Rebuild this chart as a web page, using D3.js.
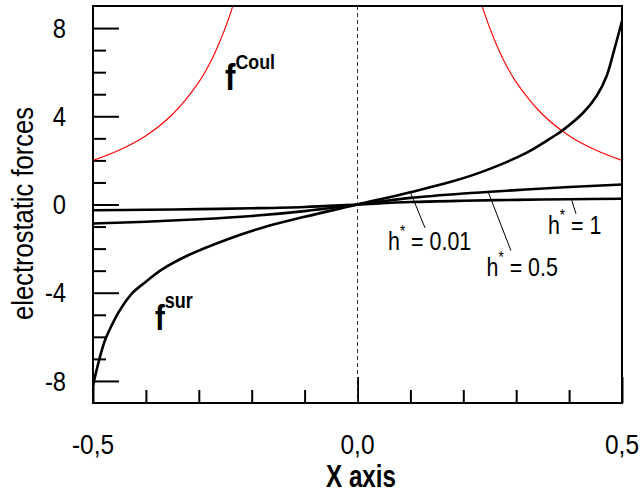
<!DOCTYPE html>
<html>
<head>
<meta charset="utf-8">
<script src="https://cdn.jsdelivr.net/npm/d3@7"></script>
<style>
  html, body { margin: 0; padding: 0; background: #fff; }
  svg { display: block; }
  text { font-family: "Liberation Sans", Arial, sans-serif; fill: #000; }
</style>
</head>
<body>
<svg id="chart" width="643" height="494"></svg>
<script>
// ---------------- data ----------------
const xMajorTicks = [-0.5, 0, 0.5];
const xTickLabels = ["-0,5", "0,0", "0,5"];
const xMinorTicks = [-0.4, -0.3, -0.2, -0.1, 0.1, 0.2, 0.3, 0.4];
const yMajorTicks = [-8, -4, 0, 4, 8];
const yTickLabels = ["-8", "-4", "0", "4", "8"];
const yMinorTicks = [-7, -6, -5, -3, -2, -1, 1, 2, 3, 5, 6, 7];

// Coulomb force (red), left and right branches
const coulLeftX  = [-0.5, -0.45, -0.4, -0.35, -0.3, -0.275, -0.25, -0.235, -0.225];
const coulLeftY  = [2.0, 2.47, 3.12, 4.08, 5.55, 6.6, 8.0, 9.05, 9.9];
const coulRightX = [0.225, 0.235, 0.25, 0.275, 0.3, 0.35, 0.4, 0.45, 0.5];
const coulRightY = [9.9, 9.05, 8.0, 6.6, 5.55, 4.08, 3.12, 2.47, 2.0];

// surface force, h* = 0.01 (steep curve)
const surX = [-0.5, -0.49, -0.478, -0.465, -0.452, -0.427, -0.4, -0.37, -0.32, -0.244, -0.18, -0.1, 0,
              0.1, 0.18, 0.244, 0.32, 0.37, 0.387, 0.427, 0.452, 0.471, 0.484, 0.5];
const surY = [-8.2, -7.2, -6.2, -5.5, -4.9, -4.05, -3.5, -2.95, -2.3, -1.56, -1.05, -0.56, 0,
              0.56, 1.05, 1.56, 2.35, 3.08, 3.35, 4.17, 4.92, 5.83, 6.9, 8.32];

// h* = 0.5 and h* = 1
const hX    = [-0.5, -0.4, -0.3, -0.2, -0.1, 0, 0.1, 0.2, 0.3, 0.4, 0.5];
const h05Y  = [-0.86, -0.78, -0.67, -0.52, -0.3, 0, 0.3, 0.5, 0.65, 0.79, 0.91];
const h1Y   = [-0.26, -0.24, -0.21, -0.17, -0.11, 0, 0.11, 0.17, 0.21, 0.24, 0.26];

// annotation anchors (data units)
const leaderLabels = ["0.01", "0.5", "1"];
const leaderFrom = [[0.0992, 0.605], [0.2467, 0.59], [0.405, 0.195]];
const leaderTo   = [[0.1276, -1.06], [0.290, -2.09], [0.413, -0.42]];
const labelAt    = [[0.0577, -2.045], [0.244, -3.23], [0.360, -1.32]];
const coulLabelAt = [-0.2505, 5.18];
const surLabelAt  = [-0.383, -5.68];

// ---------------- drawing ----------------
const svg = d3.select("#chart");
const L = 93, R = 622, T = 6, B = 403;
const x = d3.scaleLinear().domain([-0.5, 0.5]).range([L, R]);
const y = d3.scaleLinear().domain([-9, 9]).range([B, T]);

svg.append("clipPath").attr("id", "clip")
  .append("rect").attr("x", L).attr("y", T).attr("width", R - L).attr("height", B - T);

// ticks via d3 axes (inward)
function axisGroup(axis, tr) {
  const g = svg.append("g").attr("transform", tr).call(axis);
  g.select(".domain").remove();
  g.selectAll("text").remove();
  g.selectAll("line").attr("stroke", "#000").attr("stroke-width", 2);
  return g;
}
axisGroup(d3.axisLeft(y).tickValues(yMinorTicks).tickSize(-13), `translate(${L},0)`);
axisGroup(d3.axisLeft(y).tickValues(yMajorTicks).tickSize(-26), `translate(${L},0)`);
axisGroup(d3.axisBottom(x).tickValues(xMinorTicks).tickSize(-13), `translate(0,${B})`);
axisGroup(d3.axisBottom(x).tickValues(xMajorTicks).tickSize(-26), `translate(0,${B})`);

// dashed zero line
svg.append("line")
  .attr("x1", x(0)).attr("x2", x(0)).attr("y1", T).attr("y2", B)
  .attr("stroke", "#333").attr("stroke-width", 1).attr("stroke-dasharray", "4,3");

const smooth = d3.line().x(d => x(d[0])).y(d => y(d[1])).curve(d3.curveCatmullRom.alpha(0.5));
const plot = svg.append("g").attr("clip-path", "url(#clip)");

plot.append("path").datum(d3.zip(coulLeftX, coulLeftY)).attr("d", smooth)
  .attr("fill", "none").attr("stroke", "#ff0000").attr("stroke-width", 1.1);
plot.append("path").datum(d3.zip(coulRightX, coulRightY)).attr("d", smooth)
  .attr("fill", "none").attr("stroke", "#ff0000").attr("stroke-width", 1.1);

[d3.zip(surX, surY), d3.zip(hX, h05Y), d3.zip(hX, h1Y)].forEach(d => {
  plot.append("path").datum(d).attr("d", smooth)
    .attr("fill", "none").attr("stroke", "#000").attr("stroke-width", 2.6)
    .attr("stroke-linejoin", "round");
});

// frame
svg.append("rect").attr("x", L).attr("y", T).attr("width", R - L).attr("height", B - T)
  .attr("fill", "none").attr("stroke", "#000").attr("stroke-width", 2);

// condensed text helper
function ctext(px, py, opts) {
  const g = svg.append("g").attr("transform",
    `translate(${px},${py})` + (opts.rotate ? ` rotate(${opts.rotate})` : "") + ` scale(${opts.sx || 0.86},1)`);
  const t = g.append("text")
    .attr("text-anchor", opts.anchor || "start")
    .attr("font-size", opts.size)
    .attr("font-weight", opts.weight || "normal");
  if (opts.dy) t.attr("dy", opts.dy);
  return t;
}

// tick labels
yMajorTicks.forEach((v, i) => {
  ctext(66, y(v), { size: 27, anchor: "end", dy: "0.36em", sx: 0.88 }).text(yTickLabels[i]);
});
xMajorTicks.forEach((v, i) => {
  ctext(x(v), 454, { size: 28.5, anchor: "middle", sx: 0.86 }).text(xTickLabels[i]);
});

// axis titles
ctext(33, 213.5, { size: 29.5, anchor: "middle", rotate: -90, sx: 0.866 }).text("electrostatic forces");
ctext(361, 487, { size: 31, anchor: "middle", weight: "bold", sx: 0.78 }).text("X axis");

// leader lines and h* labels
leaderFrom.forEach((p, i) => {
  svg.append("line")
    .attr("x1", x(p[0])).attr("y1", y(p[1]))
    .attr("x2", x(leaderTo[i][0])).attr("y2", y(leaderTo[i][1]))
    .attr("stroke", "#000").attr("stroke-width", 1);
  const t = ctext(x(labelAt[i][0]), y(labelAt[i][1]), { size: 25.5, sx: 0.84 });
  t.append("tspan").text("h");
  t.append("tspan").attr("font-size", 16).attr("dy", -13).text("*");
  t.append("tspan").attr("dy", 13).text(" = " + leaderLabels[i]);
});

// f labels
{
  const t = ctext(x(coulLabelAt[0]), y(coulLabelAt[1]), { size: 37, weight: "bold", sx: 0.85 });
  t.append("tspan").text("f");
  t.append("tspan").attr("font-size", 21).attr("dy", -21.5).text("Coul");
}
{
  const t = ctext(x(surLabelAt[0]), y(surLabelAt[1]), { size: 36, weight: "bold", sx: 0.82 });
  t.append("tspan").text("f");
  t.append("tspan").attr("font-size", 22).attr("dy", -22).text("sur");
}
</script>
</body>
</html>
